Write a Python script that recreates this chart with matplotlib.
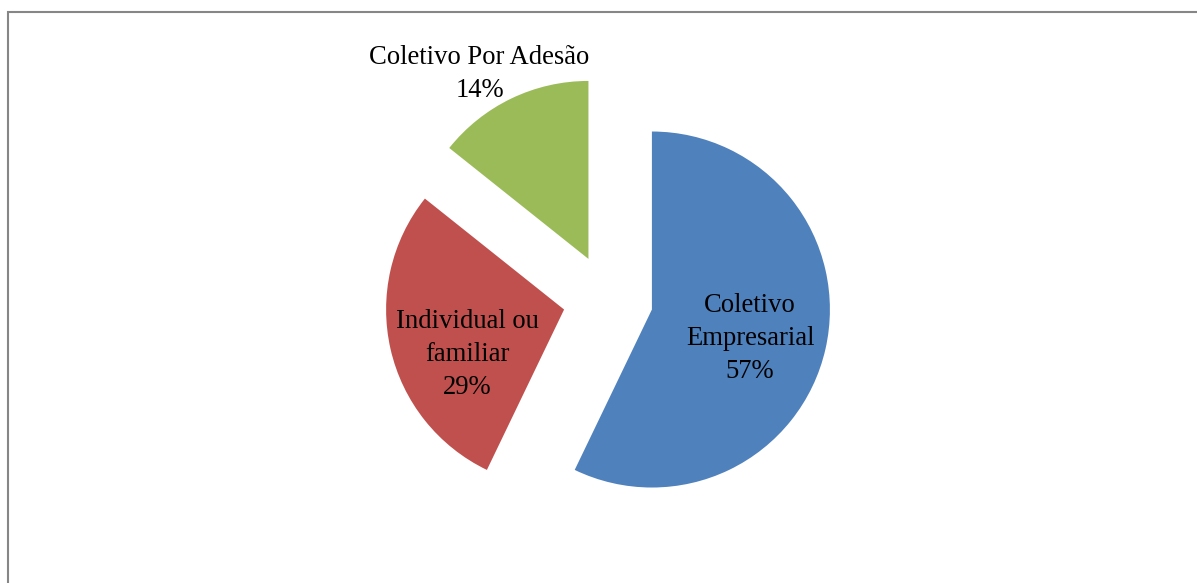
import numpy as np
import matplotlib
matplotlib.use("Agg")
import matplotlib.pyplot as plt
from matplotlib.patches import Rectangle

labels = ["Coletivo\nEmpresarial", "Individual ou\nfamiliar", "Coletivo Por Adesão"]
values = [57.14, 28.57, 14.29]
pct_labels = ["57%", "29%", "14%"]
colors = ["#4F81BD", "#C0504D", "#9BBB59"]

W, H = 1197, 583
fig = plt.figure(figsize=(W / 100, H / 100), dpi=100)
ax = fig.add_axes([0, 0, 1, 1])

R_px = 178.0
cx_px, cy_px = 608.0, 299.5  # pie centre in pixels (from top-left)

wedges, _ = ax.pie(values, colors=colors, startangle=90, counterclock=False,
                   explode=[0.253, 0.253, 0.253], radius=1.0,
                   wedgeprops=dict(linewidth=0))

ax.set_xlim(-cx_px / R_px, (W - cx_px) / R_px)
ax.set_ylim(-(H - cy_px) / R_px, cy_px / R_px)
ax.set_aspect("auto")
ax.axis("off")

# label placement relative to each wedge: (distance, angle shift in degrees)
label_pos = [(0.575, -3.5), (0.60, 12.0), (1.205, 4.8)]
font = dict(family=["Liberation Serif", "DejaVu Serif"], size=19.2, color="black")
for w, lab, pct, (dist, shift) in zip(wedges, labels, pct_labels, label_pos):
    mid = np.deg2rad((w.theta1 + w.theta2) / 2 + shift)
    x = w.center[0] + dist * np.cos(mid)
    y = w.center[1] + dist * np.sin(mid)
    ax.text(x, y, f"{lab}\n{pct}", ha="center", va="center",
            multialignment="center", linespacing=1.42, **font)

# outer chart border (partly out of frame)
fig.patches.append(Rectangle((7.5 / W, -0.1), 1.2, 1.1 - 12.5 / H,
                             transform=fig.transFigure, fill=False,
                             edgecolor="#868686", linewidth=1.5))

fig.savefig("out.png", dpi=100)
